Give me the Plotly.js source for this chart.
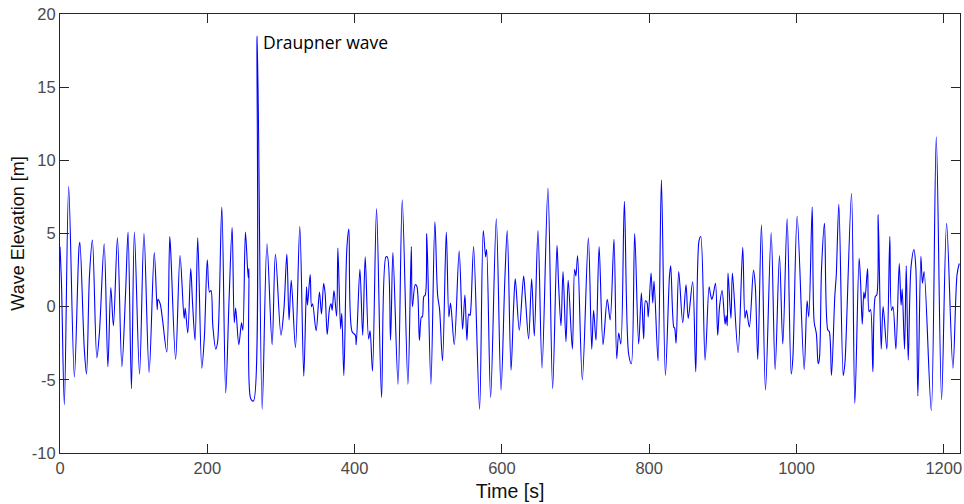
<!DOCTYPE html>
<html>
<head>
<meta charset="utf-8">
<script src="https://cdn.plot.ly/plotly-3.0.1.min.js"></script>
<style>html,body{margin:0;padding:0;background:#fff;}#chart{width:964px;height:504px;}</style>
</head>
<body>
<div id="chart"></div>
<script>
// Time [s] and wave elevation [m] at peaks/troughs
const timeS = [0,2,5.9,11.8,19.5,25.9,27,33,36,40,44,50,53.5,60,65,69,72.5,78,84,89,92.4,97,101,108,114,121,128,132,133,136,139,145,149,150.5,157,163,168.5,170,173.5,177.5,180,183.4,187,192.5,196,200,203,205,207.5,211.5,214,219.7,225,229.5,233.7,236.6,238.5,242.8,246.5,248.3,251.8,255.5,256.5,259,262.7,267.7,274.5,281,288,292.5,300,304,308,311,314,319.7,325.6,331,334.7,336,339.7,341.5,343,347.8,352.3,355,358,360,362.8,366,368,369.5,372,375.6,377.3,381,382.6,385.4,389.5,392.2,396.5,401,402.2,407.2,411,414.4,419,421,424.3,429.8,436.6,442.5,444.5,448.8,452,459,464.7,472.4,477,478.5,482.3,484.5,488,490.7,492,494,496,498,503.6,509,512.7,515.4,519.4,524.5,528,530.3,535.3,542,546.6,549.8,552.5,555,556.7,558,561.6,569.7,574.7,577.9,579.3,584.7,592.4,598.8,604,607.3,612.4,615.9,618.2,623.6,629.5,632,636.3,640.4,644,649,654.5,662.5,668.9,674.8,677,680.2,683,687,690,695.7,698.7,700.5,702.8,709.2,717.4,722,724.5,727.8,732,737.3,743,747,752.2,755.9,758.6,761.5,766.3,772,775.8,780.3,785.7,789.4,792.5,795,797,798.7,802.5,804.8,806.6,812,816.6,822,827.6,829.2,833.4,834.5,836.5,840.1,845.5,850,853,859,863.2,867.6,870,875.9,881.3,883,885,886.5,890,893,895.5,899,903,904.5,906,907,911,913,920.7,927,930,932,936,941.6,944,947.4,952.4,957.9,965.6,971,976.9,981.4,987.3,992.8,995,1000.9,1010.4,1014.4,1016.7,1021.3,1024,1027,1029.4,1031,1034,1038,1042.5,1044.5,1047.5,1052,1054,1057.5,1063.4,1064.5,1066,1074.7,1079.2,1085,1087,1089.3,1091.5,1093,1096.5,1098.5,1100.5,1103.7,1107,1109,1110.9,1115,1117.6,1122.7,1126.7,1129,1131,1135,1139.5,1142,1143.5,1146.7,1149,1151.7,1155.5,1159.5,1162,1164.8,1168.9,1171,1173.3,1183,1189.8,1197,1203.8,1212.4,1218,1221];
const elevationM = [4.1,1.6,-6.7,8.2,-4.8,4.1,4.4,-2.9,-4.6,2.1,4.55,-3.5,-1.8,4.3,-4.1,1.3,-1.3,4.7,-4.1,0.9,5.1,-5.6,5.1,-4.6,5.0,-4.5,3.7,-0.2,0.5,0.2,-0.8,-3.1,4.8,3.6,-3.6,3.5,-0.8,-0.1,-1.8,2.6,0.2,-2.3,4.7,-4.2,-2.1,3.2,1.0,1.1,-1.3,-2.9,-2.4,6.8,-5.9,0.4,5.4,-1.1,-0.1,-2.6,-1.1,-1.6,5.1,2.0,2.6,-6.3,-6.45,18.5,-7.0,4.3,-2.6,3.6,-1.95,-0.2,3.6,-0.9,1.8,-2.8,5.5,-4.75,1.35,0.1,2.2,0.0,0.2,-1.65,1.0,-0.5,1.6,0.9,-1.9,-0.1,0.2,-0.25,1.1,-0.65,4.0,-1.5,-0.45,-4.7,4.0,5.3,-1.7,-1.95,-2.6,2.55,-1.95,3.4,-2.2,-1.65,-4.4,6.7,-6.2,3.4,3.4,-2.3,3.7,-5.3,7.3,-5.3,4.1,0.0,1.5,1.4,-2.3,-0.7,-0.7,0.7,0.8,5.0,-5.3,5.8,0.8,-0.2,-3.7,5.1,-0.7,0.25,-2.6,3.8,-1.55,0.8,-2.3,-0.5,-0.6,0.0,4.1,-7.0,5.2,3.4,3.9,-6.2,6.0,-5.7,1.85,5.2,-4.35,0.0,1.9,-1.6,2.1,0.55,-2.2,1.9,-2.0,5.2,-4.2,8.1,-5.6,4.2,1.5,-1.3,2.4,-2.4,1.8,-2.9,2.55,2.1,3.5,-5.0,4.7,-2.9,-0.25,-2.3,4.1,-2.6,0.5,-0.9,4.6,-3.55,-1.8,-2.55,7.2,-3.2,-3.9,5.0,-2.55,0.95,-2.2,0.4,0.3,-0.7,2.3,0.25,1.75,-3.7,8.65,-4.7,2.15,2.8,-1.4,-1.45,-2.5,2.4,-1.1,1.5,-0.8,1.7,-4.45,4.5,4.8,-3.65,1.35,0.9,0.5,0.7,1.6,-1.95,0.0,1.1,-1.2,-0.6,-1.3,2.3,-0.8,2.3,-3.15,4.05,-0.8,-0.25,-1.4,2.5,1.5,-3.6,5.6,-5.7,5.05,-4.3,3.5,-2.55,6.0,-4.6,-3.55,6.2,-4.3,0.4,-0.7,6.8,-1.05,-1.85,-3.9,-3.6,2.6,5.7,-1.6,-1.7,-4.7,0.7,2.15,7.0,-4.7,-4.4,-3.7,7.75,-6.6,3.3,1.7,-1.2,1.0,0.55,2.6,-0.35,-0.2,-4.45,0.7,0.8,6.3,-2.9,0.0,-2.9,4.8,-0.25,0.0,-2.9,2.95,0.1,1.2,-2.9,2.8,-3.65,2.7,3.9,2.7,-6.1,3.45,1.6,2.4,-7.1,11.6,-6.35,5.7,-4.2,2.2,2.95];
const xTicks = [0,200,400,600,800,1000,1200];
const yTicks = [-10,-5,0,5,10,15,20];
const annotationText = "Draupner wave";
const annotationX = 273;
const annotationY = 18.1;

const trace = {
  x: timeS, y: elevationM, type: 'scatter', mode: 'lines',
  line: {color: '#0000ff', width: 1.1, shape: 'spline', smoothing: 0.9},
  hoverinfo: 'skip'
};

const axisCommon = {
  showgrid: false, zeroline: false, showline: true, mirror: 'allticks',
  linecolor: '#262626', linewidth: 1, ticks: 'inside', ticklen: 9, tickwidth: 1,
  tickcolor: '#262626', tickfont: {family: 'Liberation Sans, Arial, sans-serif', size: 16.5, color: '#4a4a4a'}
};

const layout = {
  width: 964, height: 504,
  margin: {l: 60, r: 4, t: 14, b: 51},
  paper_bgcolor: '#ffffff', plot_bgcolor: '#ffffff',
  showlegend: false,
  xaxis: Object.assign({}, axisCommon, {
    range: [0, 1222], tickvals: xTicks, ticktext: xTicks.map(String),
    title: {text: 'Time [s]', font: {family: 'Liberation Sans, Arial, sans-serif', size: 19.5, color: '#111'}, standoff: 8}
  }),
  yaxis: Object.assign({}, axisCommon, {
    range: [-10, 20], tickvals: yTicks, ticktext: yTicks.map(String),
    title: {text: 'Wave Elevation [m]', font: {family: 'Liberation Sans, Arial, sans-serif', size: 18, color: '#111'}, standoff: 2}
  }),
  annotations: [{
    x: annotationX, y: annotationY, xref: 'x', yref: 'y', text: annotationText,
    showarrow: false, xanchor: 'left', yanchor: 'middle',
    font: {family: 'Open Sans, sans-serif', size: 17.5, color: '#000'}
  }]
};

Plotly.newPlot('chart', [trace], layout, {staticPlot: true, displayModeBar: false});
</script>
</body>
</html>
